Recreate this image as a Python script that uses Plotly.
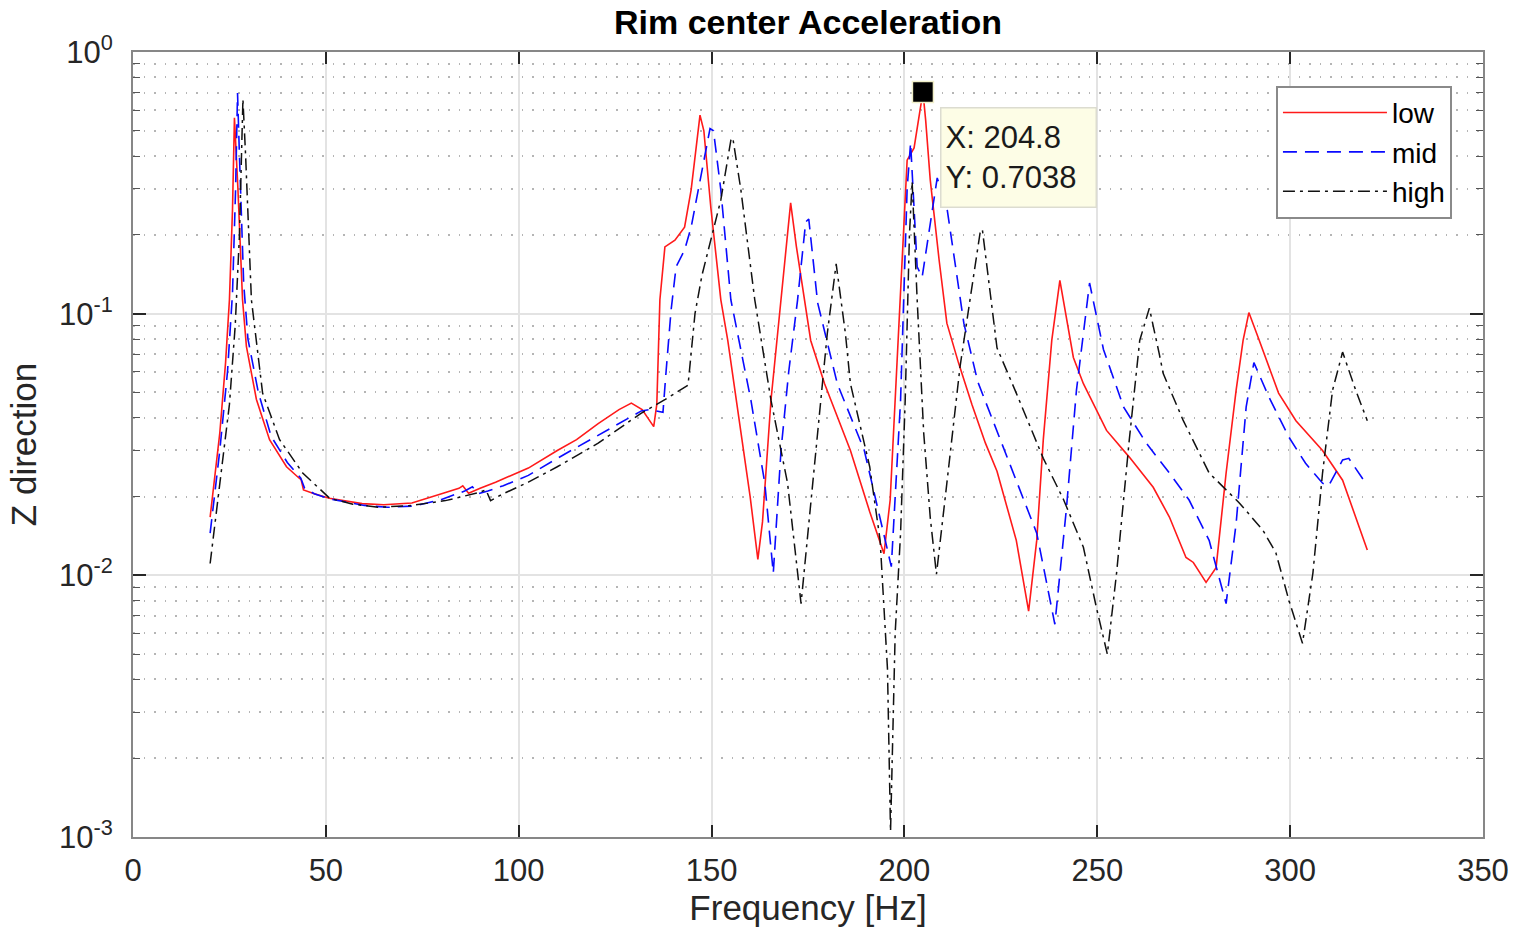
import math
import plotly.graph_objects as go

# ---------------- data ----------------
low_f = [20, 22.5, 24, 25, 25.8, 26.3, 27.2, 28.4, 29.4, 32, 35.4, 39.8, 43.1, 43.6, 44.2, 47, 50.9, 59.4,
         65, 72.3, 80, 84.5, 85.5, 87, 90, 94, 102.5, 110, 115, 120.6, 126, 129.2, 132, 134.3, 135,
         135.8, 136.6, 137.9, 140.5, 143, 144.7, 147, 148, 149.8, 152.4, 154.2, 157.6, 160, 162, 163.2,
         165.4, 168, 170.5, 172, 174, 175.7, 179.3, 186, 191, 194.7, 196.3, 199, 200.7, 202.5, 204.1,
         204.8, 205.5, 206.7, 209, 211, 214, 217.5, 221, 224, 229, 232.2, 234.3, 236, 238.2, 240.3,
         243.8, 246.4, 252.4, 258.3, 264.5, 268.7, 273, 274.9, 278.2, 280.8, 283.4, 286, 287.8, 289.3,
         292, 297, 301.5, 308.4, 313.6, 317, 320]
low_v = [0.0167, 0.035, 0.065, 0.113, 0.25, 0.56, 0.30, 0.113, 0.075, 0.047, 0.033, 0.026, 0.0235,
         0.0232, 0.0212, 0.0205, 0.0197, 0.0188, 0.0186, 0.0189, 0.0205, 0.0215, 0.022, 0.0206, 0.0215,
         0.0227, 0.0257, 0.030, 0.033, 0.038, 0.043, 0.0455, 0.043, 0.038, 0.037, 0.045, 0.113, 0.18,
         0.191, 0.214, 0.297, 0.574, 0.5, 0.255, 0.113, 0.079, 0.0349, 0.020, 0.0115, 0.016, 0.0467,
         0.113, 0.265, 0.18, 0.113, 0.079, 0.054, 0.030, 0.0175, 0.0121, 0.0194, 0.113, 0.386, 0.43,
         0.616, 0.7038, 0.55, 0.324, 0.16, 0.092, 0.065, 0.045, 0.032, 0.025, 0.0136, 0.0073, 0.0136,
         0.033, 0.079, 0.134, 0.068, 0.054, 0.0358, 0.0283, 0.0217, 0.0167, 0.0117, 0.0112, 0.0094,
         0.0107, 0.0246, 0.051, 0.079, 0.101, 0.079, 0.0497, 0.039, 0.030, 0.0231, 0.0167, 0.0125]

mid_f = [20, 22.5, 24.5, 25.8, 26.6, 27.1, 27.6, 28.7, 29.8, 32.5, 35.8, 40, 43.5, 44.5, 47, 51, 60, 66,
         73, 80, 86, 88, 89.5, 92, 96, 102.5, 110, 120, 127, 131.8, 134, 136, 137.4, 138.2, 139.5, 140.8,
         143, 144.7, 147.3, 149.6, 150.5, 152.4, 155, 157.5, 160.2, 163.8, 166, 168, 170, 172.3, 174.4,
         175.2, 177.5, 182.6, 189.6, 195.6, 196.6, 199, 200.7, 201.6, 203.3, 204.6, 206.7, 208.5, 211,
         215.4, 219, 224, 229, 234.3, 239, 242, 244.6, 248, 251.6, 256.8, 262.7, 268.7, 273.8, 279,
         283.4, 286, 288.6, 290.6, 294.5, 299.7, 304, 308.4, 310, 313.6, 315.2, 319.6, 320]
mid_v = [0.0145, 0.03, 0.06, 0.12, 0.3, 0.697, 0.4, 0.13, 0.08, 0.05, 0.034, 0.027, 0.0235, 0.0215,
         0.0205, 0.0196, 0.0185, 0.0182, 0.0184, 0.0195, 0.021, 0.0218, 0.0205, 0.021, 0.022, 0.0241,
         0.028, 0.034, 0.039, 0.0425, 0.043, 0.0425, 0.042, 0.06, 0.103, 0.151, 0.175, 0.214, 0.344,
         0.51, 0.5, 0.297, 0.113, 0.075, 0.0467, 0.0225, 0.0102, 0.030, 0.06, 0.113, 0.224, 0.23, 0.11,
         0.054, 0.030, 0.0125, 0.0108, 0.0467, 0.3, 0.45, 0.151, 0.138, 0.222, 0.33, 0.255, 0.092, 0.055,
         0.0358, 0.023, 0.0145, 0.0065, 0.018, 0.051, 0.131, 0.073, 0.044, 0.032, 0.0246, 0.0194, 0.0136,
         0.0078, 0.0158, 0.044, 0.065, 0.048, 0.0337, 0.0268, 0.0225, 0.022, 0.0276, 0.028, 0.0225, 0.0222]

high_f = [20, 22.5, 25, 26.5, 27.6, 28.5, 29.2, 30.7, 33.6, 38, 44, 51, 57, 63.8, 72.3, 81, 89.6, 91.5,
          92.7, 96, 102.5, 110, 120.6, 131.7, 138, 143.9, 145.7, 147.5, 149.8, 152.4, 155, 155.5, 157.6,
          161.2, 165.4, 169.7, 173.2, 176.7, 180, 182.3, 184.7, 186, 191, 193.7, 195.6, 196.4, 197.6,
          199, 200.2, 201.3, 202, 203.3, 205, 206.7, 208.3, 211, 214.4, 217, 219.6, 220.2, 224, 229, 236,
          241.3, 246.4, 249.8, 252.6, 255, 258.3, 261, 263.5, 266, 267.1, 272.3, 279, 286.7, 292.9, 296.3,
          299.7, 303.2, 305.9, 308.4, 311, 313.6, 317, 320]
high_v = [0.0111, 0.022, 0.045, 0.09, 0.2, 0.66, 0.4, 0.113, 0.0497, 0.033, 0.0246, 0.0197, 0.0187,
          0.0182, 0.0185, 0.0193, 0.0207, 0.0212, 0.0193, 0.0205, 0.0227, 0.026, 0.032, 0.0416, 0.047,
          0.0533, 0.1, 0.14, 0.191, 0.272, 0.46, 0.47, 0.297, 0.113, 0.0467, 0.0225, 0.0078, 0.026,
          0.084, 0.155, 0.084, 0.054, 0.026, 0.0136, 0.0044, 0.00105, 0.006, 0.0145, 0.0467, 0.2, 0.32,
          0.113, 0.035, 0.0166, 0.0101, 0.0225, 0.0624, 0.113, 0.203, 0.21, 0.074, 0.0497, 0.028, 0.0194,
          0.0128, 0.0075, 0.005, 0.0102, 0.033, 0.079, 0.105, 0.071, 0.059, 0.039, 0.0246, 0.019, 0.0149,
          0.0122, 0.008, 0.0055, 0.0102, 0.0246, 0.051, 0.0713, 0.051, 0.039]

tip_x = 204.8
tip_y = 0.7038

x_ticks = [0, 50, 100, 150, 200, 250, 300, 350]
y_ticks = [0.001, 0.01, 0.1, 1]
y_ticktext = ["10<sup>-3</sup>", "10<sup>-2</sup>", "10<sup>-1</sup>", "10<sup>0</sup>"]
y_minor = [k * 10.0 ** e for e in (-3, -2, -1) for k in range(2, 10)]

FONT = "Liberation Sans, Arial, Helvetica, sans-serif"

fig = go.Figure()
fig.add_trace(go.Scatter(x=low_f, y=low_v, mode="lines", name="low",
                         line=dict(color="#ff1a1a", width=1.6)))
fig.add_trace(go.Scatter(x=mid_f, y=mid_v, mode="lines", name="mid",
                         line=dict(color="#0a0aff", width=1.6, dash="14px,8px")))
fig.add_trace(go.Scatter(x=high_f, y=high_v, mode="lines", name="high",
                         line=dict(color="#111111", width=1.5, dash="12px,5px,3px,5px")))
# data tip marker
fig.add_trace(go.Scatter(x=[tip_x], y=[tip_y], mode="markers", showlegend=False,
                         marker=dict(symbol="square", size=21, color="black",
                                     line=dict(color="#f0eec8", width=1.5))))

fig.add_annotation(x=209.2, y=math.log10(0.616), xref="x", yref="y",
                   xanchor="left", yanchor="top", showarrow=False, align="left",
                   text=f"X: {tip_x}<br>Y: {tip_y}",
                   font=dict(family=FONT, size=31, color="#1a1a1a"),
                   bgcolor="#fdfde6", bordercolor="#dcdcd0", borderwidth=1.5,
                   width=146, height=90, borderpad=4)

fig.update_layout(
    width=1521, height=934,
    margin=dict(l=133, r=31, t=52, b=97),
    paper_bgcolor="white", plot_bgcolor="white",
    font=dict(family=FONT, size=31, color="#262626"),
    title=dict(text="<b>Rim center Acceleration</b>", x=0.5, xref="paper", xanchor="center",
               y=1 - 22 / 934, yref="container", yanchor="middle",
               font=dict(family=FONT, size=34, color="#000000")),
    legend=dict(x=0.977, y=0.957, xanchor="right", yanchor="top",
                bgcolor="white", bordercolor="#8a8a8a", borderwidth=2,
                font=dict(family=FONT, size=28, color="#000000"),
                itemwidth=104, tracegroupgap=0),
    showlegend=True,
)

fig.update_xaxes(
    range=[0, 350], tickvals=x_ticks, ticks="inside", ticklen=12, tickwidth=1.5,
    tickcolor="#262626", showline=True, linecolor="#878787", linewidth=2, mirror="ticks",
    showgrid=True, gridcolor="#e3e3e3", gridwidth=2, zeroline=False,
    tickfont=dict(family=FONT, size=31, color="#262626"), ticklabelstandoff=5,
    title=dict(text="Frequency [Hz]", standoff=6,
               font=dict(family=FONT, size=35, color="#262626")),
)
fig.update_yaxes(
    type="log", range=[-3, 0], tickmode="array", tickvals=y_ticks, ticktext=y_ticktext,
    ticks="inside", ticklen=13, tickwidth=1.5, tickcolor="#262626",
    showline=True, linecolor="#878787", linewidth=2, mirror="ticks",
    showgrid=True, gridcolor="#e3e3e3", gridwidth=2, zeroline=False,
    minor=dict(tickmode="array", tickvals=y_minor, ticks="inside", ticklen=7,
               tickcolor="#555555", tickwidth=1.2, showgrid=True, gridcolor="#b5b5b5",
               griddash="1.5px,9px", gridwidth=1.5),
    tickfont=dict(family=FONT, size=31, color="#262626"), ticklabelstandoff=12,
    title=dict(text="Z direction", standoff=12,
               font=dict(family=FONT, size=35, color="#262626")),
)

fig.write_html("out.html")
